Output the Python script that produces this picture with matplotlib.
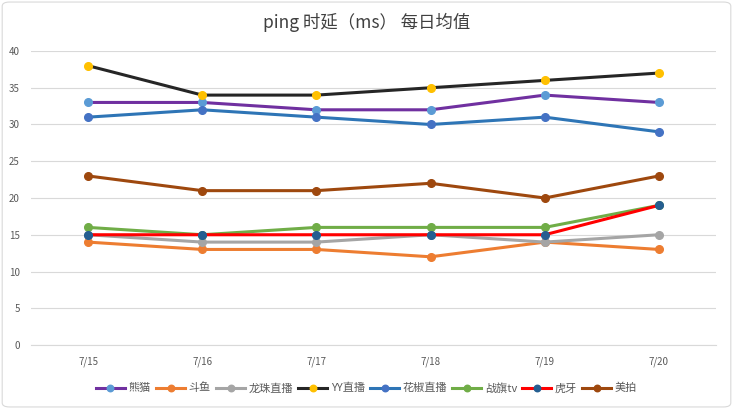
import matplotlib.pyplot as plt
from matplotlib.patches import FancyBboxPatch

plt.rcParams['font.family'] = ['Noto Sans CJK SC', 'DejaVu Sans']

dates = ['7/15', '7/16', '7/17', '7/18', '7/19', '7/20']
names = ['熊猫', '斗鱼', '龙珠直播', 'YY直播', '花椒直播', '战旗tv', '虎牙', '美拍']
xiongmao = [33, 33, 32, 32, 34, 33]
douyu = [14, 13, 13, 12, 14, 13]
longzhu = [15, 14, 14, 15, 14, 15]
yy = [38, 34, 34, 35, 36, 37]
huajiao = [31, 32, 31, 30, 31, 29]
zhanqi = [16, 15, 16, 16, 16, 19]
huya = [15, 15, 15, 15, 15, 19]
meipai = [23, 21, 21, 22, 20, 23]

series = [xiongmao, douyu, longzhu, yy, huajiao, zhanqi, huya, meipai]
line_colors = ['#7030A0', '#ED7D31', '#A5A5A5', '#262626', '#2E75B6', '#70AD47', '#FF0000', '#9E480E']
marker_colors = ['#5B9BD5', '#ED7D31', '#A5A5A5', '#FFC000', '#4472C4', '#70AD47', '#255E91', '#9E480E']

fig = plt.figure(figsize=(7.33, 4.09), dpi=100)
ax = fig.add_axes([31 / 733, 1 - 345 / 409, (716 - 31) / 733, (345 - 51) / 409])

x = list(range(len(dates)))
for vals, name, lc, mc in zip(series, names, line_colors, marker_colors):
    ax.plot(x, vals, color=lc, linewidth=2.2, marker='o', markersize=5.5,
            markerfacecolor=mc, markeredgecolor=mc, label=name)

ax.set_xlim(-0.5, len(dates) - 0.5)
ax.set_ylim(0, 40)
ax.set_yticks(range(0, 41, 5))
ax.set_xticks(x)
ax.set_xticklabels(dates)
ax.grid(axis='y', color='#D9D9D9', linewidth=0.8)
ax.set_axisbelow(True)
for s in ['top', 'right', 'left']:
    ax.spines[s].set_visible(False)
ax.spines['bottom'].set_color('#D9D9D9')
ax.tick_params(length=0, labelsize=7, colors='#595959', pad=8)

fig.text(0.5, 1 - 22 / 409, 'ping 时延（ms） 每日均值', ha='center', va='center',
         fontsize=12.5, color='#404040')

leg = fig.legend(loc='center', bbox_to_anchor=(0.5, 1 - 388 / 409), ncol=8, frameon=False,
                 fontsize=8, labelcolor='#595959', handlelength=2.6, handletextpad=0.3,
                 columnspacing=0.5, markerscale=0.85)

border = FancyBboxPatch((0.003, 0.005), 0.994, 0.99, boxstyle='round,pad=0,rounding_size=0.01',
                        transform=fig.transFigure, fill=False, edgecolor='#D9D9D9', linewidth=0.8)
fig.patches.append(border)

fig.savefig('out.png', dpi=100)
